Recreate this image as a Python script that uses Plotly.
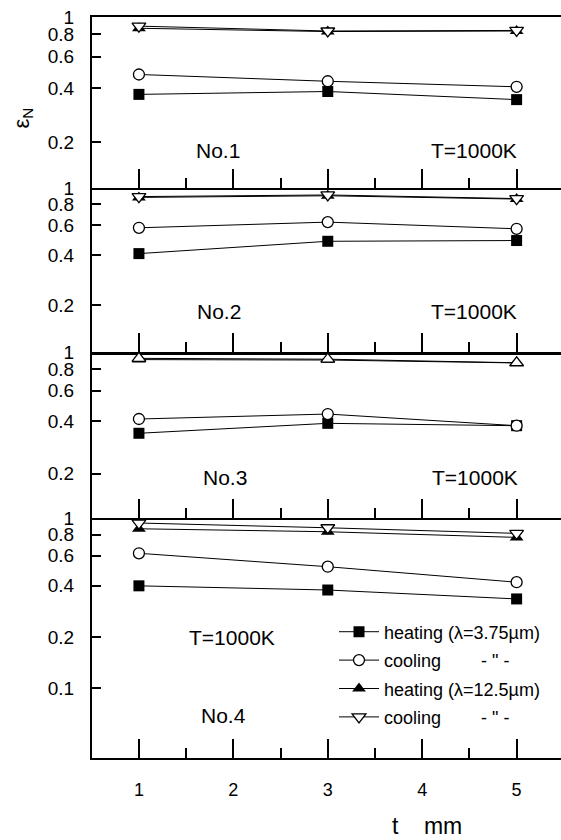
import math
import plotly.graph_objects as go

# thickness t (mm)
t = [1, 3, 5]
panel_names = ["No.1", "No.2", "No.3", "No.4"]

# normal emissivity per panel (No.1 .. No.4), values at t = 1, 3, 5 mm
heating_375 = [[0.370, 0.384, 0.346],
               [0.407, 0.482, 0.487],
               [0.341, 0.389, 0.377],
               [0.400, 0.378, 0.335]]
cooling_375 = [[0.478, 0.438, 0.408],
               [0.580, 0.627, 0.572],
               [0.412, 0.440, 0.377],
               [0.621, 0.518, 0.420]]
heating_125 = [[0.866, 0.830, 0.836],
               [0.880, 0.900, 0.860],
               [0.905, 0.900, 0.866],
               [0.865, 0.831, 0.770]]
cooling_125 = [[0.890, 0.836, 0.842],
               [0.890, 0.910, 0.866],
               [0.920, 0.910, 0.868],
               [0.935, 0.877, 0.813]]

y_lower = [0.111, 0.1055, 0.111, 0.039]
y_ticks = [0.1, 0.2, 0.4, 0.6, 0.8, 1]
y_ticktext = ["0.1", "0.2", "0.4", "0.6", "0.8", "1"]
x_ticks = [1, 2, 3, 4, 5]

legend_names = ["heating (λ=3.75µm)",
                "cooling\u00a0\u00a0\u00a0\u00a0\u00a0\u00a0\u00a0\u00a0- \" -",
                "heating (λ=12.5µm)",
                "cooling\u00a0\u00a0\u00a0\u00a0\u00a0\u00a0\u00a0\u00a0- \" -"]

domains = [[0.7692, 1.0], [0.5479, 0.7692], [0.3239, 0.5479], [0.0, 0.3239]]

REG = "Liberation Sans, Arial, sans-serif"

fig = go.Figure()

for i in range(4):
    xa = "x" if i == 0 else f"x{i+1}"
    ya = "y" if i == 0 else f"y{i+1}"
    show = (i == 3)
    series = [
        (heating_375[i], dict(symbol="square", size=11, color="black", line=dict(width=0))),
        (cooling_375[i], dict(symbol="circle", size=11, color="white", line=dict(color="black", width=1.3))),
        (heating_125[i], dict(symbol="triangle-up", size=12, color="black", line=dict(width=0))),
        (cooling_125[i], dict(symbol="triangle-up" if i == 2 else "triangle-down", size=12,
                              color="white", line=dict(color="black", width=1.3))),
    ]
    for k, (vals, mk) in enumerate(series):
        fig.add_trace(go.Scatter(
            x=t, y=vals, mode="lines+markers", xaxis=xa, yaxis=ya,
            line=dict(color="black", width=1), marker=mk,
            name=legend_names[k], showlegend=show, legendrank=k + 1,
            legendgroup=f"g{k}",
        ))

layout = dict(
    width=561, height=840,
    margin=dict(l=92, r=0, t=17, b=82),
    paper_bgcolor="white", plot_bgcolor="white",
    font=dict(family=REG, size=18, color="black"),
    showlegend=True,
    legend=dict(x=0.516, y=0.195, xanchor="left", yanchor="top",
                bgcolor="rgba(0,0,0,0)", font=dict(family=REG, size=18),
                itemwidth=40, traceorder="grouped", tracegroupgap=2),
)

for i in range(4):
    xkey = "xaxis" if i == 0 else f"xaxis{i+1}"
    ykey = "yaxis" if i == 0 else f"yaxis{i+1}"
    yname = "y" if i == 0 else f"y{i+1}"
    xname = "x" if i == 0 else f"x{i+1}"
    layout[xkey] = dict(
        domain=[0, 1], anchor=yname, range=[0.503, 5.47],
        tickmode="array", tickvals=x_ticks, ticktext=[str(v) for v in x_ticks],
        showticklabels=(i == 3), ticks="inside", ticklen=19, tickwidth=1.5,
        tickcolor="black",
        minor=dict(ticks="inside", ticklen=10, tickwidth=1.5, dtick=0.5, tick0=0.5,
                   tickcolor="black"),
        showline=True, linecolor="black", linewidth=3 if i == 1 else 2,
        mirror=(i == 0), showgrid=False, zeroline=False,
        tickfont=dict(size=18), ticklabelstandoff=14,
    )
    if i > 0:
        layout[xkey]["matches"] = "x"
    layout[ykey] = dict(
        domain=domains[i], anchor=xname, type="log",
        range=[math.log10(y_lower[i]), 0.0004],
        tickmode="array", tickvals=y_ticks, ticktext=y_ticktext,
        ticks="inside", ticklen=9, tickwidth=1.5, tickcolor="black",
        showline=True, linecolor="black", linewidth=2,
        showgrid=False, zeroline=False,
        tickfont=dict(size=19), ticklabelstandoff=12,
    )

fig.update_layout(**layout)

# panel labels
ann_font = dict(family=REG, size=21, color="black")
labels = [
    (panel_names[0], 0.2687, 0.8205), ("T=1000K", 0.8145, 0.8205),
    (panel_names[1], 0.2708, 0.6023), ("T=1000K", 0.8145, 0.6023),
    (panel_names[2], 0.2836, 0.3779), ("T=1000K", 0.8166, 0.3779),
    ("T=1000K", 0.2985, 0.1620), (panel_names[3], 0.2814, 0.0567),
]
for txt, ax, ay in labels:
    fig.add_annotation(text=txt, x=ax, y=ay, xref="paper", yref="paper",
                       showarrow=False, font=ann_font, xanchor="center", yanchor="middle")

# axis titles
fig.add_annotation(text="t\u00a0\u00a0\u00a0\u00a0mm", x=0.714, y=-0.0918, xref="paper", yref="paper",
                   showarrow=False, xanchor="center", yanchor="middle",
                   font=dict(family=REG, size=23, color="black"))
fig.add_annotation(text="ε<sub>N</sub>", x=-0.148, y=0.8637, xref="paper", yref="paper",
                   showarrow=False, textangle=-90, xanchor="center", yanchor="middle",
                   font=dict(family=REG, size=22, color="black"))

fig.write_html("out.html")
